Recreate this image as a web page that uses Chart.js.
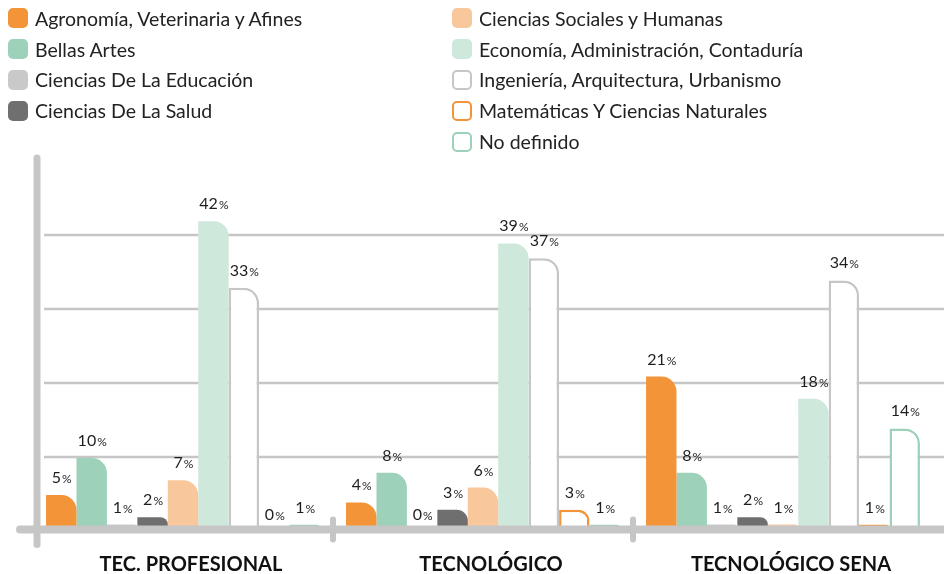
<!DOCTYPE html>
<html lang="es">
<head>
  <meta charset="UTF-8" />
  <title>Áreas de conocimiento por nivel de formación</title>
  <script src="https://cdn.jsdelivr.net/npm/chart.js"></script>
  <style>
    body {
      margin: 0;
      background: #fff;
      font-family: Lato, 'Noto Sans', sans-serif;
    }
    .wrap {
      position: relative;
      width: 944px;
      height: 574px;
    }
    #chart { position: absolute; left: 0; top: 0; }
    .legend-col { position: absolute; top: 3px; }
    .legend-item {
      display: flex;
      align-items: center;
      height: 30.8px;
      font-size: 19.5px;
      color: #222;
      white-space: nowrap;
    }
    .swatch {
      width: 20px;
      height: 20px;
      border-radius: 5px;
      margin-right: 7px;
      box-sizing: border-box;
    }
  </style>
</head>
<body>
  <div class="wrap">
    <canvas id="chart" width="944" height="574"></canvas>
    <div class="legend-col" id="legendA" style="left:8px"></div>
    <div class="legend-col" id="legendB" style="left:452px"></div>
  </div>
  <script>
    const levels = ['TEC. PROFESIONAL', 'TECNOLÓGICO', 'TECNOLÓGICO SENA'];
    const areas = [
      'Agronomía, Veterinaria y Afines',
      'Bellas Artes',
      'Ciencias De La Educación',
      'Ciencias De La Salud',
      'Ciencias Sociales y Humanas',
      'Economía, Administración, Contaduría',
      'Ingeniería, Arquitectura, Urbanismo',
      'Matemáticas Y Ciencias Naturales',
      'No definido'
    ];
    // porcentajes por nivel (TEC. PROFESIONAL, TECNOLÓGICO, TECNOLÓGICO SENA)
    const agronomia   = [5, 4, 21];
    const bellasArtes = [10, 8, 8];
    const educacion   = [1, 0, 1];
    const salud       = [2, 3, 2];
    const sociales    = [7, 6, 1];
    const economia    = [42, 39, 18];
    const ingenieria  = [33, 37, 34];
    const matematicas = [0, 3, 1];
    const noDefinido  = [1, 1, 14];
    const gridValues  = [10, 20, 30, 40];

    const seriesValues = [agronomia, bellasArtes, educacion, salud, sociales,
                          economia, ingenieria, matematicas, noDefinido];
    const fills   = ['#f39438', '#9dd1b9', '#c9c9c9', '#6f6f6f', '#f8c89c',
                     '#cfe8dc', '#ffffff', '#ffffff', '#ffffff'];
    const borders = [null, null, null, null, null, null, '#c6c6c6', '#f39438', '#9dd1b9'];

    const AXIS = '#c6c6c6';

    // legend (two columns, like the original)
    areas.forEach((name, i) => {
      const col = document.getElementById(i < 4 ? 'legendA' : 'legendB');
      const item = document.createElement('div');
      item.className = 'legend-item';
      const sw = document.createElement('span');
      sw.className = 'swatch';
      if (borders[i]) {
        sw.style.border = '2.5px solid ' + borders[i];
        sw.style.background = '#fff';
      } else {
        sw.style.background = fills[i];
      }
      item.appendChild(sw);
      item.appendChild(document.createTextNode(name));
      col.appendChild(item);
    });

    const decor = {
      id: 'decor',
      beforeDatasetsDraw(chart) {
        const {ctx, scales: {y}} = chart;
        ctx.save();
        ctx.strokeStyle = AXIS;
        ctx.lineWidth = 2.5;
        gridValues.forEach(v => {
          const py = y.getPixelForValue(v) - 1;
          ctx.beginPath();
          ctx.moveTo(44, py);
          ctx.lineTo(chart.width, py);
          ctx.stroke();
        });
        ctx.restore();
      },
      afterDatasetsDraw(chart) {
        const {ctx, chartArea, scales: {x}} = chart;
        const base = chartArea.bottom - 2.5;
        ctx.save();
        ctx.strokeStyle = AXIS;
        ctx.lineCap = 'round';
        // baseline
        ctx.lineWidth = 8;
        ctx.beginPath();
        ctx.moveTo(20, base);
        ctx.lineTo(chart.width + 10, base);
        ctx.stroke();
        // left axis
        ctx.lineWidth = 7;
        ctx.beginPath();
        ctx.moveTo(37, 158);
        ctx.lineTo(37, base + 15);
        ctx.stroke();
        // separators between groups
        ctx.lineWidth = 6;
        for (let i = 1; i < levels.length; i++) {
          const sx = (x.getPixelForValue(i - 1) + x.getPixelForValue(i)) / 2;
          ctx.beginPath();
          ctx.moveTo(sx, base - 10);
          ctx.lineTo(sx, base + 10);
          ctx.stroke();
        }
        // value labels
        ctx.fillStyle = '#1e1e1e';
        ctx.textBaseline = 'alphabetic';
        chart.data.datasets.forEach((ds, di) => {
          chart.getDatasetMeta(di).data.forEach((bar, j) => {
            const num = String(ds.data[j]);
            ctx.font = '16px Lato';
            const wn = ctx.measureText(num).width;
            ctx.font = '12px Lato';
            const wp = ctx.measureText('%').width;
            const left = bar.x - (wn + wp) / 2;
            const ty = bar.y - 12;
            ctx.font = '16px Lato';
            ctx.textAlign = 'left';
            ctx.fillText(num, left, ty);
            ctx.font = '12px Lato';
            ctx.fillText('%', left + wn + 1, ty);
          });
        });
        ctx.restore();
      }
    };

    new Chart(document.getElementById('chart'), {
      type: 'bar',
      data: {
        labels: levels,
        datasets: areas.map((name, i) => ({
          label: name,
          data: seriesValues[i],
          backgroundColor: fills[i],
          borderColor: borders[i] || fills[i],
          borderWidth: borders[i] ? 2.5 : 0,
          borderRadius: { topRight: 15 },
          borderSkipped: 'start'
        }))
      },
      options: {
        responsive: false,
        animation: false,
        layout: { padding: { top: 162, left: 33, right: 11, bottom: 0 } },
        categoryPercentage: 0.913,
        barPercentage: 1.0,
        plugins: {
          legend: { display: false },
          tooltip: { enabled: false }
        },
        scales: {
          y: { display: false, min: 0, max: 50 },
          x: {
            grid: { display: false },
            border: { display: false },
            afterFit(scale) { scale.height = 42; },
            ticks: {
              color: '#111',
              padding: 13,
              labelOffset: 8,
              maxRotation: 0,
              font: { family: 'Lato', size: 20, weight: 'bold' }
            }
          }
        }
      },
      plugins: [decor]
    });
  </script>
</body>
</html>
